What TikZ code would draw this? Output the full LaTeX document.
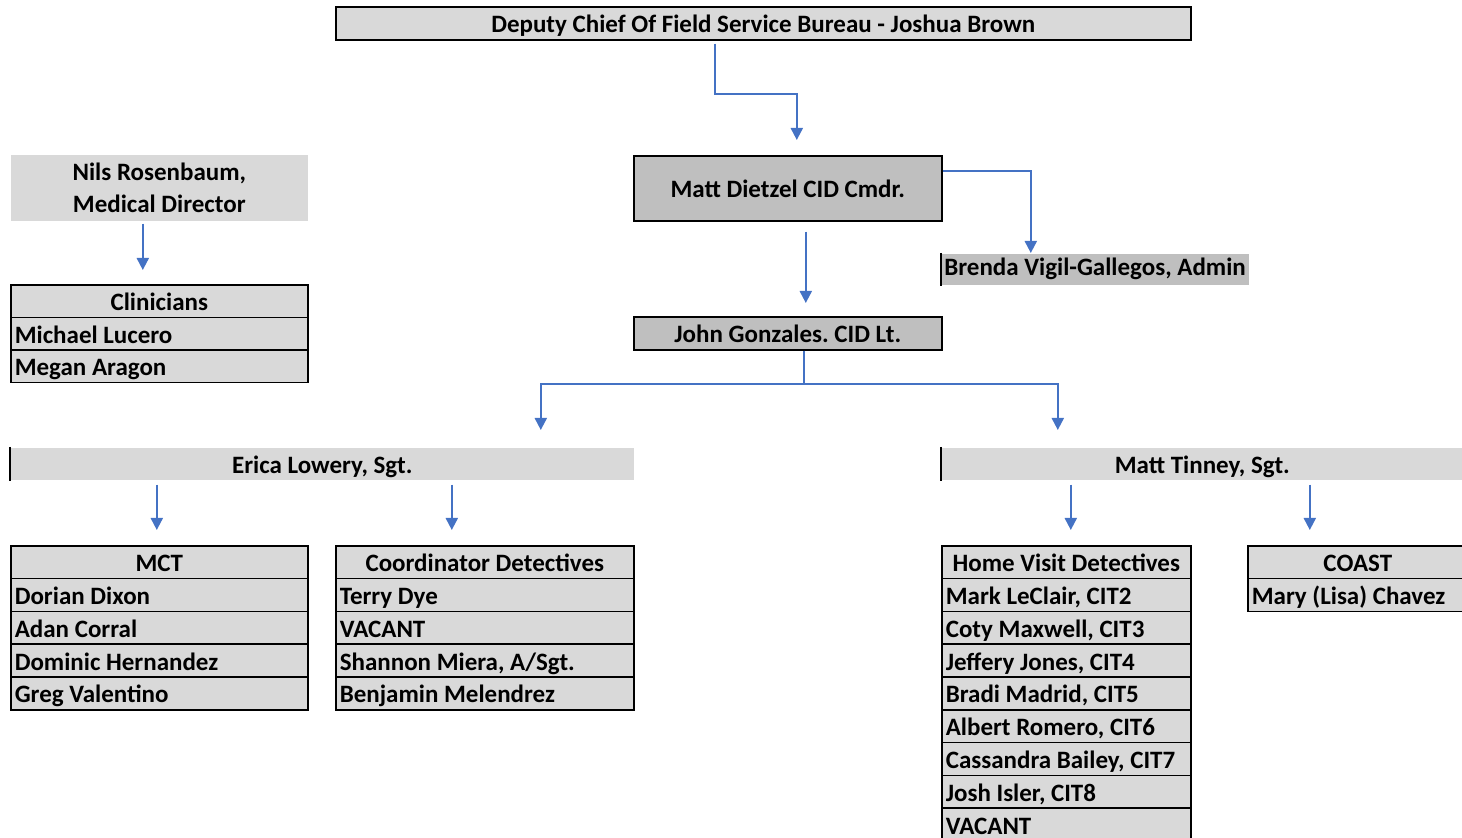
\documentclass[tikz,border=0pt]{standalone}
\usepackage{fontspec}
\setmainfont{Carlito}
\usetikzlibrary{arrows.meta}
\usetikzlibrary{calc}
\definecolor{linkblue}{RGB}{68,114,196}
\definecolor{cellgray}{RGB}{217,217,217}
\definecolor{headgray}{RGB}{191,191,191}
\newcommand{\drawlink}[1][]{\draw[linkblue, line width=1pt, -{Triangle[length=6pt,width=6pt]}, #1]}
\frenchspacing

\begin{document}
\begin{tikzpicture}[x=0.5pt, y=-0.5pt,
    plain/.style={draw=black, line width=0.8pt, fill=cellgray, anchor=north west, inner sep=0pt,
      font=\fontsize{12.5}{16}\selectfont\bfseries},
    cell/.style={plain, text height=9.6pt, text depth=0pt},
    row/.style={cell, text width=#1, align=flush left, inner xsep=2pt, minimum height=16.4pt}]
    \useasboundingbox (0,0) rectangle (1462,838);

    % Command chain
    \node[cell, minimum width=427.5pt, minimum height=16.5pt] (top) at (335,6) {Deputy Chief Of Field Service Bureau - Joshua Brown};
    \node[cell, fill=headgray, minimum width=154pt, minimum height=32.5pt] (dietzel) at (633,155) {Matt Dietzel CID Cmdr.};
    \node[cell, fill=headgray, minimum width=154pt, minimum height=16.5pt] (gonzales) at (633,316) {John Gonzales. CID Lt.};
    \node[plain, draw=none, fill=headgray, text width=151pt, align=flush left, inner xsep=1.25pt, minimum height=15.5pt] (brenda) at (941,253) {\mbox{Brenda Vigil-Gallegos, Admin}};
    \draw[line width=0.8pt] (brenda.north west) -- (brenda.south west);

    % Sergeants
    \node[cell, draw=none, minimum width=311.5pt, minimum height=16pt] (erica) at (10,447) {Erica Lowery, Sgt.};
    \draw[line width=0.8pt] (erica.north west) -- (erica.south west);
    \node[cell, draw=none, minimum width=260.5pt, minimum height=16pt] (tinney) at (941,447) {Matt Tinney, Sgt.};
    \draw[line width=0.8pt] (tinney.north west) -- (tinney.south west);

    % Medical side
    \node[plain, draw=none, align=center, minimum width=148.5pt, minimum height=33pt] (nils) at (10,154) {Nils Rosenbaum,\\Medical Director};
    \node[cell, minimum width=148.5pt, minimum height=16.3pt] (clin) at (10,284) {Clinicians};
    \foreach \who [count=\i] in {Michael Lucero, Megan Aragon}
        \node[row=144.5pt, minimum height=16.3pt] (clin-\i) at (10,284+32.6*\i) {\mbox{\who}};

    % Teams
    \node[cell, minimum width=148.5pt, minimum height=16.4pt] (mct) at (10,545) {MCT};
    \foreach \who [count=\i] in {Dorian Dixon, Adan Corral, Dominic Hernandez, Greg Valentino}
        \node[row=144.5pt] (mct-\i) at (10,545+32.8*\i) {\mbox{\who}};

    \node[cell, minimum width=149pt, minimum height=16.4pt] (coord) at (335,545) {Coordinator Detectives};
    \foreach \who [count=\i] in {Terry Dye, VACANT, {Shannon Miera, A/Sgt.}, Benjamin Melendrez}
        \node[row=145pt] (coord-\i) at (335,545+32.8*\i) {\mbox{\who}};

    \node[cell, minimum width=124.5pt, minimum height=16.4pt] (hv) at (941,545) {Home Visit Detectives};
    \foreach \who [count=\i] in {{Mark LeClair, CIT2}, {Coty Maxwell, CIT3}, {Jeffery Jones, CIT4},
        {Bradi Madrid, CIT5}, {Albert Romero, CIT6}, {Cassandra Bailey, CIT7}, {Josh Isler, CIT8}, VACANT}
        \node[row=120.5pt] (hv-\i) at (941,545+32.8*\i) {\mbox{\who}};

    \node[cell, minimum width=110pt, minimum height=16.4pt] (coast) at (1247,545) {COAST};
    \foreach \who [count=\i] in {{Mary (Lisa) Chavez}}
        \node[row=106pt] (coast-\i) at (1247,545+32.8*\i) {\mbox{\who}};

    % Connectors
    \drawlink[shorten <=1.5pt, shorten >=7.5pt] ([xshift=-24.25pt]top.south) -- ++(0,-26.5pt) -| ([xshift=4.5pt]dietzel.north);
    \drawlink ([yshift=8.75pt]dietzel.east) -| ([xshift=-32.25pt]brenda.north);
    \drawlink[shorten <=5pt, shorten >=6.5pt] ([xshift=9pt]dietzel.south) -- ([xshift=9pt]gonzales.north);
    \drawlink[shorten >=8.5pt] ([xshift=8pt]gonzales.south) -- ++(0,-16.5pt) -| ([xshift=109.25pt]erica.north);
    \drawlink[shorten >=8.5pt] ([xshift=8pt]gonzales.south) -- ++(0,-16.5pt) -| ([xshift=-72.25pt]tinney.north);
    \drawlink[shorten <=1pt, shorten >=7pt] ([xshift=-8.25pt]nils.south) -- ([xshift=-8.25pt]clin.north);
    \drawlink[shorten <=2pt, shorten >=7.5pt] ($(mct.north |- erica.south)+(-1.25pt,0)$) -- ([xshift=-1.25pt]mct.north);
    \drawlink[shorten <=2pt, shorten >=7.5pt] ($(coord.north |- erica.south)+(-16.5pt,0)$) -- ([xshift=-16.5pt]coord.north);
    \drawlink[shorten <=2pt, shorten >=7.5pt] ($(hv.north |- tinney.south)+(2.25pt,0)$) -- ([xshift=2.25pt]hv.north);
    \drawlink[shorten <=2pt, shorten >=7.5pt] ($(coast.north |- tinney.south)+(-24pt,0)$) -- ([xshift=-24pt]coast.north);
\end{tikzpicture}
\end{document}
